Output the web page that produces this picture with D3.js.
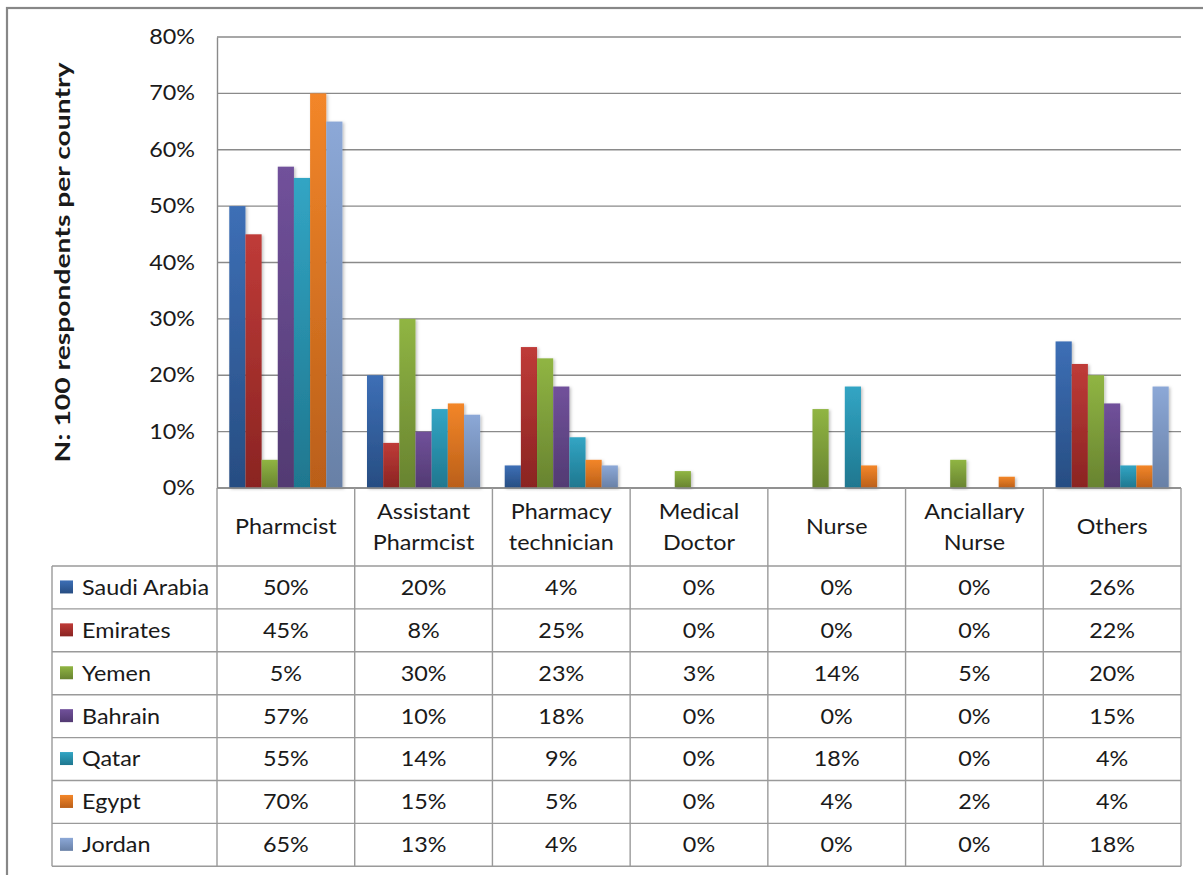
<!DOCTYPE html>
<html><head><meta charset="utf-8">
<script src="https://cdn.jsdelivr.net/npm/d3@7"></script>
<style>body{margin:0;background:#fff}svg{display:block}text{font-family:Lato,"Open Sans",sans-serif;fill:#1a1a1a}</style>
</head><body><svg id="c" width="1203" height="875"></svg>
<script>
const categories = ["Pharmcist","Assistant Pharmcist","Pharmacy technician","Medical Doctor","Nurse","Anciallary Nurse","Others"];
const categoryLines = [["Pharmcist"],["Assistant","Pharmcist"],["Pharmacy","technician"],["Medical","Doctor"],["Nurse"],["Anciallary","Nurse"],["Others"]];
const seriesNames = ["Saudi Arabia","Emirates","Yemen","Bahrain","Qatar","Egypt","Jordan"];
const saudi    = [50,20,4,0,0,0,26];
const emirates = [45,8,25,0,0,0,22];
const yemen    = [5,30,23,3,14,5,20];
const bahrain  = [57,10,18,0,0,0,15];
const qatar    = [55,14,9,0,18,0,4];
const egypt    = [70,15,5,0,4,2,4];
const jordan   = [65,13,4,0,0,0,18];
const yTicks = [0,10,20,30,40,50,60,70,80];
const colorsTop = ["#3D6FB6","#BF3B38","#90B543","#71519B","#32A5C4","#F38629","#8CA8D7"];
const colorsBot = ["#274D82","#8A2422","#688330","#523A72","#1F778F","#BA5F19","#6880A6"];

const values = [saudi,emirates,yemen,bahrain,qatar,egypt,jordan];
const svg = d3.select("#c");
const defs = svg.append("defs");
colorsTop.forEach((c,i)=>{
  const g = defs.append("linearGradient").attr("id","g"+i).attr("x1",0).attr("y1",0).attr("x2",0).attr("y2",1);
  g.append("stop").attr("offset","0%").attr("stop-color",c);
  g.append("stop").attr("offset","100%").attr("stop-color",colorsBot[i]);
});
const f = defs.append("filter").attr("id","sh").attr("x","-30%").attr("y","-10%").attr("width","160%").attr("height","120%");
f.append("feDropShadow").attr("dx",1.5).attr("dy",1).attr("stdDeviation",1.5).attr("flood-color","#000").attr("flood-opacity",0.25);

// outer frame
svg.append("rect").attr("x",7).attr("y",8).attr("width",1210).attr("height",880)
  .attr("fill","none").attr("stroke","#878787").attr("stroke-width",2.2);

const L=217, R=1181, T=37, B=488;
const x = d3.scaleBand().domain(categories).range([L,R]).padding(0);
const xs = d3.scaleBand().domain(seriesNames).range([0,x.bandwidth()]).paddingInner(0).paddingOuter(0.76);
const y = d3.scaleLinear().domain([0,80]).range([B,T]);

// gridlines
svg.append("g").selectAll("line").data(yTicks).join("line")
  .attr("x1",L).attr("x2",R).attr("y1",d=>y(d)).attr("y2",d=>y(d))
  .attr("stroke","#8a8a8a").attr("stroke-width",1.4);

// y axis
const ya = svg.append("g").attr("transform",`translate(${L},0)`)
  .call(d3.axisLeft(y).tickValues(yTicks).tickFormat(d=>d+"%").tickSize(0).tickPadding(22));
ya.select(".domain").attr("stroke","#8a8a8a").attr("stroke-width",1.4);
ya.selectAll("text").attr("class","st").style("font-family","Lato, sans-serif").style("font-size","20.5px").attr("fill","#1a1a1a");

// bars
const gb = svg.append("g");
values.forEach((arr,si)=>{
  gb.append("g").selectAll("rect").data(arr.map((v,ci)=>({v,c:categories[ci]}))).join("rect")
    .filter(d=>d.v>0)
    .attr("x",d=>x(d.c)+xs(seriesNames[si]))
    .attr("width",xs.bandwidth())
    .attr("y",d=>y(d.v)).attr("height",d=>y(0)-y(d.v))
    .attr("fill",`url(#g${si})`).attr("filter","url(#sh)");
});

// axis line at 0
svg.append("line").attr("x1",L).attr("x2",R).attr("y1",B).attr("y2",B).attr("stroke","#8a8a8a").attr("stroke-width",1.4);

// data table
const rowTop = 566, rowH = 42.9, legL = 52;
const nR = seriesNames.length;
const tb = svg.append("g").attr("stroke","#9a9a9a").attr("stroke-width",1.4);
const bottom = rowTop + nR*rowH;
x.domain().concat([null]).forEach((c,i)=>{
  const xx = c===null ? R : x(c);
  tb.append("line").attr("x1",xx).attr("x2",xx).attr("y1",B).attr("y2",bottom);
});
tb.append("line").attr("x1",legL).attr("x2",legL).attr("y1",rowTop).attr("y2",bottom);
d3.range(nR+1).forEach(i=>{
  tb.append("line").attr("x1",legL).attr("x2",R).attr("y1",rowTop+i*rowH).attr("y2",rowTop+i*rowH);
});

// header text
const ht = svg.append("g");
categoryLines.forEach((lines,ci)=>{
  const cx = x(categories[ci])+x.bandwidth()/2;
  const cy = (B+rowTop)/2;
  lines.forEach((ln,li)=>{
    ht.append("text").attr("class","st").attr("x",cx).attr("y",cy + (li-(lines.length-1)/2)*31).attr("dy","0.36em")
      .attr("text-anchor","middle").style("font-size","20.5px").text(ln);
  });
});
// rows
seriesNames.forEach((s,si)=>{
  const cy = rowTop + si*rowH + rowH/2;
  svg.append("rect").attr("x",60).attr("y",cy-7).attr("width",13).attr("height",13).attr("fill",`url(#g${si})`);
  svg.append("text").attr("class","st").attr("x",82).attr("y",cy).attr("dy","0.36em").style("font-size","20.5px").text(s);
  values[si].forEach((v,ci)=>{
    svg.append("text").attr("class","st").attr("x",x(categories[ci])+x.bandwidth()/2).attr("y",cy).attr("dy","0.36em")
      .attr("text-anchor","middle").style("font-size","20.5px").text(v+"%");
  });
});

// y axis title
svg.append("text").attr("transform",`translate(70,${(T+B)/2}) rotate(-90)`)
  .attr("text-anchor","middle").style("font-size","20px").style("font-weight","bold")
  .attr("textLength",400).attr("lengthAdjust","spacingAndGlyphs")
  .text("N: 100 respondents per country");

// horizontal stretch of regular text to match the reference's wide glyphs
svg.selectAll("text.st").each(function(){
  const len = this.getComputedTextLength();
  d3.select(this).attr("textLength",len*1.14).attr("lengthAdjust","spacingAndGlyphs");
});
</script></body></html>
